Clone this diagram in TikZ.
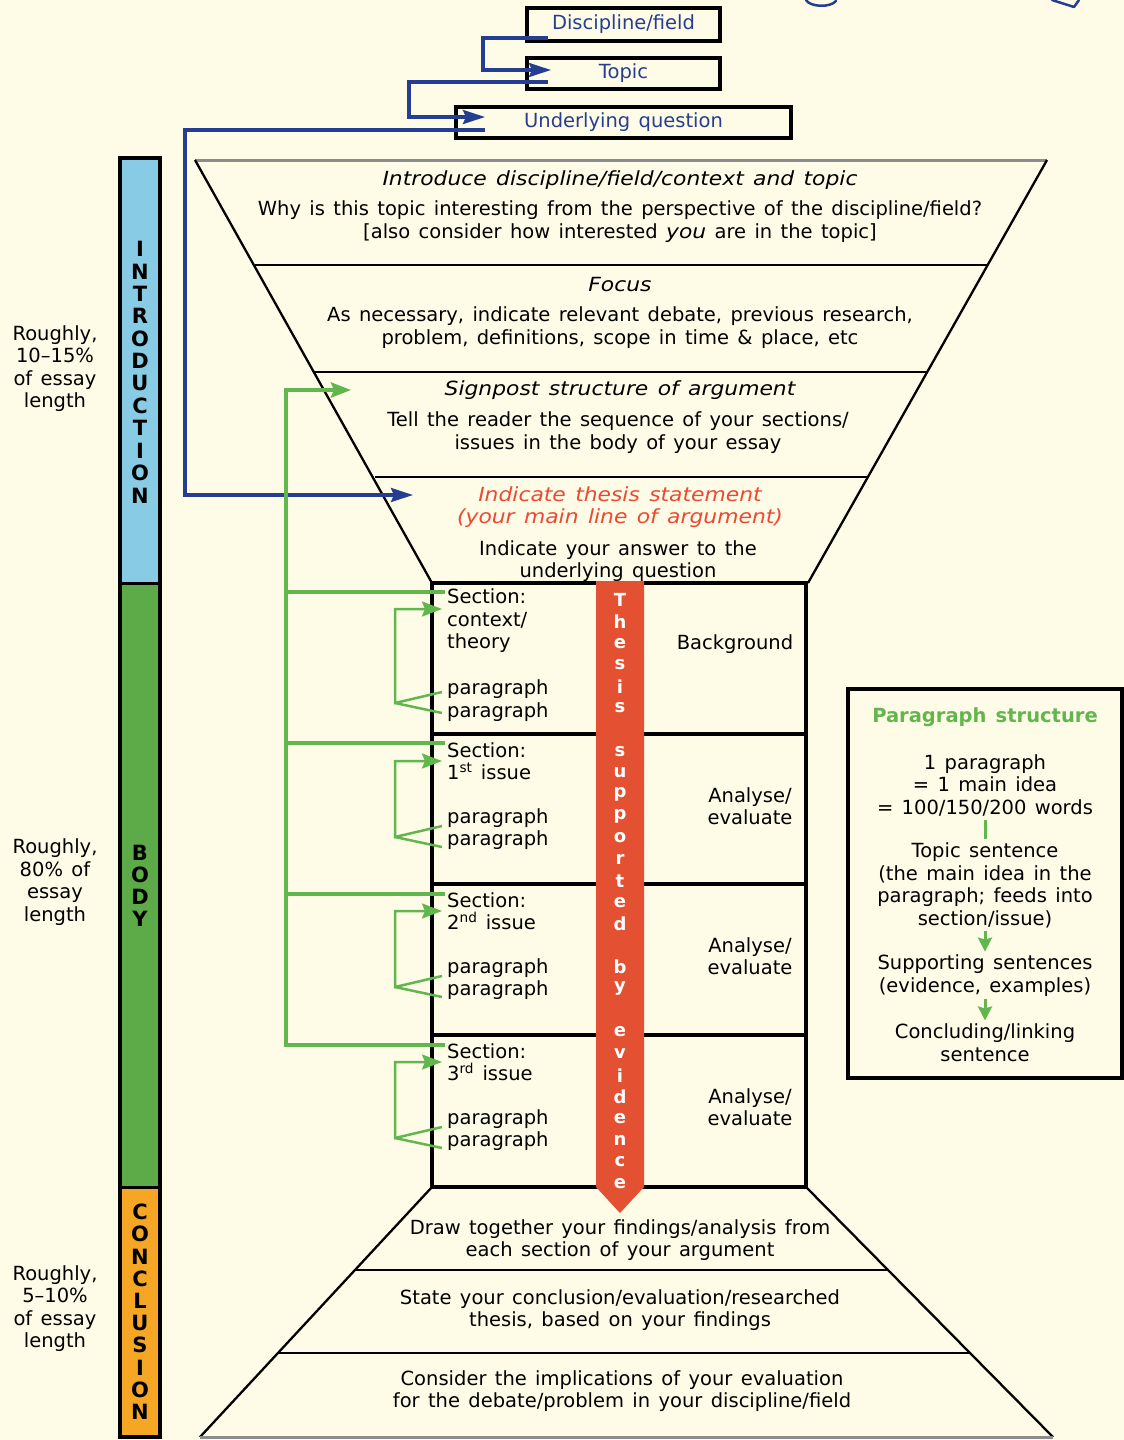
\documentclass[tikz,border=0pt]{standalone}
\usepackage{fontspec}
\setmainfont{DejaVu Sans}[WordSpace=1.35, ItalicFeatures={FakeStretch=1.12}]
\usetikzlibrary{arrows.meta,calc}
\definecolor{bg}{RGB}{254,252,230}
\definecolor{bluel}{RGB}{38,62,145}
\definecolor{introc}{RGB}{135,204,228}
\definecolor{bodyc}{RGB}{92,170,72}
\definecolor{concc}{RGB}{244,166,36}
\definecolor{thesisc}{RGB}{228,80,50}
\definecolor{greenl}{RGB}{98,182,78}
\definecolor{redt}{RGB}{236,72,52}
\tikzset{
  base/.style={font=\fontsize{19.5}{22.5}\selectfont, inner sep=0pt, align=center},
  ital/.style={base, font=\fontsize{19.5}{22.5}\selectfont\itshape},
  leftt/.style={base, align=left, anchor=west},
  topbox/.style={draw, line width=3.5pt, inner sep=0pt, text=bluel, font=\fontsize{19.5}{22}\selectfont},
  bluearr/.style={draw=bluel, line width=3.5pt, -{Stealth[length=22pt,width=14pt,inset=3pt]}},
  garr/.style={draw=greenl, line width=3pt, -{Stealth[length=20pt,width=15pt,inset=3pt]}},
  gtrunk/.style={draw=greenl, line width=4pt},
  gline/.style={draw=greenl, line width=2.5pt},
  hg/.style={draw=black, line width=2.3pt},
  hgedge/.style={draw=black!45, line width=3pt},
  boxl/.style={draw=black, line width=3.5pt},
  barletter/.style={font=\fontsize{21}{21}\selectfont\bfseries, inner sep=0pt},
  thletter/.style={font=\fontsize{18}{18}\selectfont\bfseries, text=white, inner sep=0pt},
}
\begin{document}
\begin{tikzpicture}[x=1pt,y=-1pt]
\fill[bg] (0,0) rectangle (1124,1440);
\useasboundingbox (0,0) rectangle (1124,1440);

% partial scribbles at top right
\draw[bluel, line width=2.5pt, line cap=round] (806,0) .. controls (810,7) and (830,8) .. (836,1);
\draw[bluel, line width=2.5pt, line cap=round, line join=round] (1052,0) -- (1074,7) -- (1079,0);

% ---------- hourglass ----------
\draw[hgedge] (195,160) -- (1047,160);
\draw[hg] (195,160) -- (432,583);
\draw[hg] (1047,160) -- (808,583);
\draw[hg] (255,265) -- (987,265);
\draw[hg] (315,372) -- (927,372);
\draw[hg] (375,477) -- (867,477);
\draw[hg] (432,1187) -- (200,1437);
\draw[hg] (806,1187) -- (1053,1437);
\draw[hg] (355,1270) -- (888,1270);
\draw[hg] (278,1353) -- (970,1353);
\draw[hgedge] (200,1437) -- (1053,1437);
\draw[boxl] (432,583) rectangle (806,1187);
\draw[boxl] (432,734) -- (806,734);
\draw[boxl] (432,884) -- (806,884);
\draw[boxl] (432,1035) -- (806,1035);

% ---------- left bar ----------
\fill[introc] (120,158) rectangle (160,583);
\fill[bodyc] (120,583) rectangle (160,1187);
\fill[concc] (120,1187) rectangle (160,1437);
\draw[line width=4pt] (120,158) rectangle (160,1437);
\draw[line width=3pt] (120,583) -- (160,583);
\draw[line width=3pt] (120,1187) -- (160,1187);
\foreach \ch [count=\i from 0] in {I,N,T,R,O,D,U,C,T,I,O,N}
  \node[barletter] (intro\i) at (140,249+\i*22.4) {\ch};
\foreach \ch [count=\i from 0] in {B,O,D,Y}
  \node[barletter] (body\i) at (140,853+\i*22) {\ch};
\foreach \ch [count=\i from 0] in {C,O,N,C,L,U,S,I,O,N}
  \node[barletter] (conc\i) at (140,1212+\i*22.2) {\ch};

\node[base] (pc1) at (55,368.5) {Roughly,\\10--15\%\\of essay\\length};
\node[base] (pc2) at (55,882) {Roughly,\\80\% of\\essay\\length};
\node[base] (pc3) at (55,1308.5) {Roughly,\\5--10\%\\of essay\\length};

% ---------- top boxes ----------
\node[topbox, minimum width=193pt, minimum height=33pt] (disc) at (623.5,24.5) {Discipline/field};
\node[topbox, minimum width=193pt, minimum height=31pt] (topic) at (623.5,73.5) {Topic};
\node[topbox, minimum width=335pt, minimum height=31pt] (uq) at (623.5,122.5) {Underlying question};

\coordinate (d1) at (548,38);
\coordinate (t1) at (551,70);
\coordinate (t2) at (548,82);
\coordinate (u1) at (485,117);
\coordinate (u2) at (485,130);
\coordinate (th) at (413,495);
\draw[bluearr] (d1) -- (483,38) -- (483,70) -- (t1);
\draw[bluearr] (t2) -- (409,82) -- (409,117) -- (u1);
\draw[bluearr] (u2) -- (185,130) -- (185,495) -- (th);

% ---------- intro texts ----------
\node[ital] (i1) at (620,180) {Introduce discipline/field/context and topic};
\node[base] (i2) at (620,221.5) {Why is this topic interesting from the perspective of the discipline/field?\\{}[also consider how interested \textit{you} are in the topic]};
\node[ital] (f1) at (620,285) {Focus};
\node[base] (f2) at (620,327.5) {As necessary, indicate relevant debate, previous research,\\problem, definitions, scope in time \& place, etc};
\node[ital] (s1t) at (620,390) {Signpost structure of argument};
\node[base] (s2t) at (618,432.5) {Tell the reader the sequence of your sections/\\issues in the body of your essay};
\node[ital, text=redt] (ts) at (620,507) {Indicate thesis statement\\(your main line of argument)};
\node[base] (ts2) at (618,561) {Indicate your answer to the\\underlying question};

% ---------- body ----------
\node[leftt] (sec1) at (447,621) {Section:\\context/\\theory};
\node[leftt] (par1) at (447,700.5) {paragraph\\paragraph};
\node[leftt] (sec2) at (447,761) {Section:\\1\textsuperscript{st} issue};
\node[leftt] (par2) at (447,829) {paragraph\\paragraph};
\node[leftt] (sec3) at (447,911) {Section:\\2\textsuperscript{nd} issue};
\node[leftt] (par3) at (447,979) {paragraph\\paragraph};
\node[leftt] (sec4) at (447,1062) {Section:\\3\textsuperscript{rd} issue};
\node[leftt] (par4) at (447,1130) {paragraph\\paragraph};

\node[base] (bgr) at (735,644) {Background};
\node[base] (ae1) at (750,806) {Analyse/\\evaluate};
\node[base] (ae2) at (750,956) {Analyse/\\evaluate};
\node[base] (ae3) at (750,1107) {Analyse/\\evaluate};

% thesis arrow
\fill[thesisc] (596,581) -- (644,581) -- (644,1187) -- (620,1213) -- (596,1187) -- cycle;
\foreach \ch [count=\i from 0] in {T,h,e,s,i,s,{},s,u,p,p,o,r,t,e,d,{},b,y,{},e,v,i,d,e,n,c,e}
  \node[thletter] at (620,600+\i*21.6) {\ch};

% green connectors
\coordinate (sig) at (351,390);
\coordinate (b1) at (445,592);
\coordinate (b2) at (445,743);
\coordinate (b3) at (445,894);
\coordinate (b4) at (445,1045);
\draw[gtrunk] (b1) -- (286,592);
\draw[gtrunk] (b2) -- (286,743);
\draw[gtrunk] (b3) -- (286,894);
\draw[gtrunk] (b4) -- (286,1045);
\draw[garr, line width=4pt] (286,1047) -- (286,390) -- (sig);

\foreach \t/\v/\a/\b [count=\k] in {609/703/692/713, 761/837/826/847, 911/987/976/997, 1062/1138/1127/1148}{
  \coordinate (top\k) at (442,\t);
  \coordinate (pa\k) at (442,\a);
  \coordinate (pb\k) at (442,\b);
  \draw[garr, line width=2.5pt] (pa\k) -- (395,\v) -- (395,\t) -- (top\k);
  \draw[gline] (pb\k) -- (395,\v);
}

% ---------- conclusion texts ----------
\node[base] (c1) at (620,1240) {Draw together your findings/analysis from\\each section of your argument};
\node[base] (c2) at (620,1310) {State your conclusion/evaluation/researched\\thesis, based on your findings};
\node[base] (c3) at (622,1391) {Consider the implications of your evaluation\\for the debate/problem in your discipline/field};

% ---------- paragraph structure ----------
\node[draw, line width=3.5pt, minimum width=274pt, minimum height=389pt, inner sep=0pt] (psbox) at (985,883.5) {};
\node[base, text=greenl, font=\fontsize{19.5}{22.5}\selectfont\bfseries] (pst) at (985,717) {Paragraph structure};
\node[base] (ps1) at (985,785) {1 paragraph\\= 1 main idea\\= 100/150/200 words};
\node[base] (ps2) at (985,885.5) {Topic sentence\\(the main idea in the\\paragraph; feeds into\\section/issue)};
\node[base] (ps3) at (985,975.5) {Supporting sentences\\(evidence, examples)};
\node[base] (ps4) at (985,1042.5) {Concluding/linking\\sentence};
\draw[gline, line width=3pt] ($(ps1.south)+(0,4)$) -- ($(ps2.north)+(0,-4)$);
\draw[garr, -{Stealth[length=14pt,width=14pt,inset=2pt]}] ($(ps2.south)+(0,3)$) -- ($(ps3.north)+(0,-3)$);
\draw[garr, -{Stealth[length=14pt,width=14pt,inset=2pt]}] ($(ps3.south)+(0,3)$) -- ($(ps4.north)+(0,-3)$);
\end{tikzpicture}
\end{document}
